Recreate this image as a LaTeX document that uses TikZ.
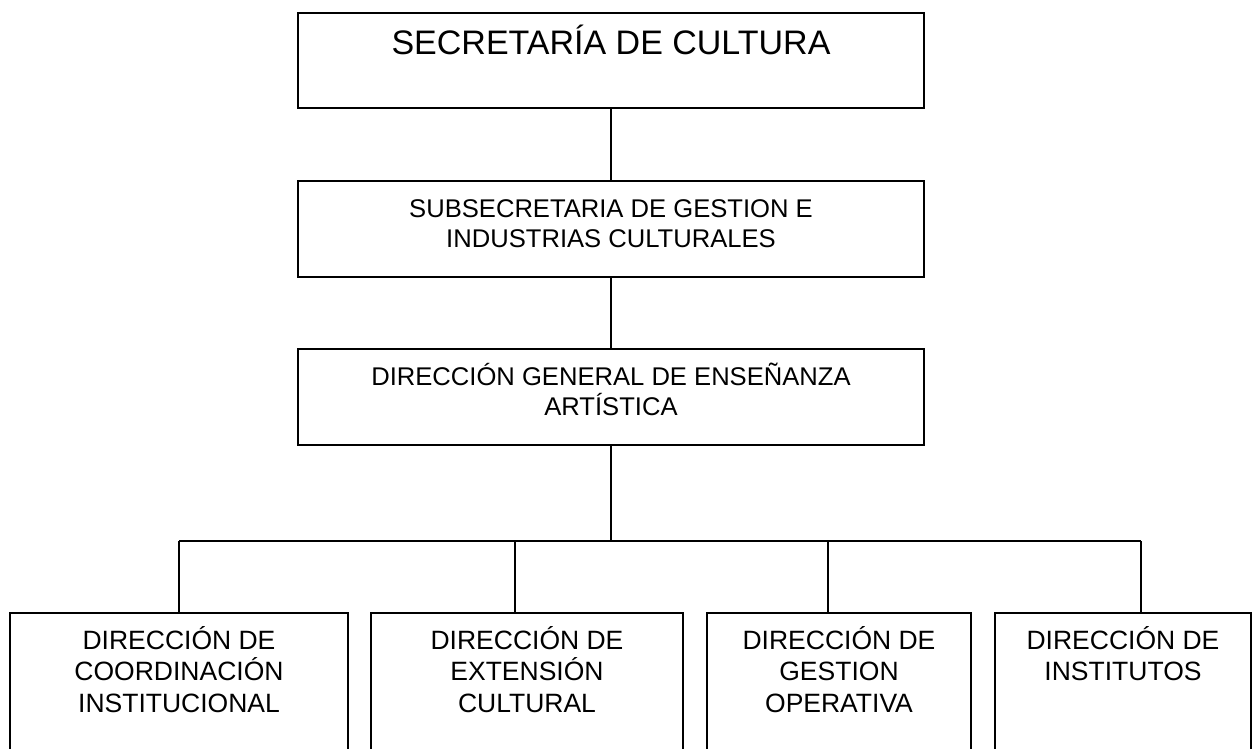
\documentclass[tikz,border=0pt]{standalone}
\usepackage{fontspec}
\setmainfont{Liberation Sans}
\usetikzlibrary{positioning}

\begin{document}
\begin{tikzpicture}[x=1pt, y=-1pt, line width=2pt,
    unit/.style = {draw, rectangle, inner sep=0pt, outer sep=0pt, minimum width=626pt, minimum height=96pt},
    dept/.style = {draw, rectangle, inner sep=0pt, outer sep=0pt, minimum height=160pt},
    title/.style = {anchor=base, align=center, inner sep=0pt, font=\fontsize{25.6}{30}\selectfont},
    dtitle/.style = {anchor=base, align=center, inner sep=0pt, font=\fontsize{26.5}{31.5}\selectfont}]
  \clip (0,0) rectangle (1253,749);

  % upper levels
  \node[unit, minimum height=95pt, line width=2.3pt] (sec) at (611,60.5) {};
  \node[unit] (sub) at (611,229) {};
  \node[unit] (dge) at (611,397) {};

  % base anchor sits on the last line
  \node[title, font=\fontsize{34}{38}\selectfont] (sec-t) at ([yshift=-42pt]sec.north) {SECRETARÍA DE CULTURA};
  \node[title] (sub-t) at ([yshift=-66pt]sub.north) {SUBSECRETARIA DE GESTION E\\INDUSTRIAS CULTURALES};
  \node[title] (dge-t) at ([yshift=-66pt]dge.north) {DIRECCIÓN GENERAL DE ENSEÑANZA\\ARTÍSTICA};

  % directions
  \node[dept, minimum width=338pt] (coo) at (179,693) {};
  \node[dept, minimum width=312pt] (ext) at (527,693) {};
  \node[dept, minimum width=264pt] (ope) at (839,693) {};
  \node[dept, minimum width=256pt] (ins) at (1123,693) {};

  \node[dtitle] (coo-t) at ([yshift=-99pt]coo.north) {DIRECCIÓN DE\\COORDINACIÓN\\INSTITUCIONAL};
  \node[dtitle] (ext-t) at ([yshift=-99pt]ext.north) {DIRECCIÓN DE\\EXTENSIÓN\\CULTURAL};
  \node[dtitle] (ope-t) at ([yshift=-99pt]ope.north) {DIRECCIÓN DE\\GESTION\\OPERATIVA};
  \node[dtitle] (ins-t) at ([yshift=-67.5pt]ins.north) {DIRECCIÓN DE\\INSTITUTOS};

  % connectors
  \coordinate (bar) at (611,541);
  \coordinate (j1) at (179,541);
  \coordinate (j2) at (515,541);
  \coordinate (j3) at (828,541);
  \coordinate (j4) at (1141,541);

  \draw (sec) -- (sub);
  \draw (sub) -- (dge);
  \draw (dge) -- (bar);
  \draw (j1) -- (j4);
  \draw (j1) -- (j1 |- coo.north);
  \draw (j2) -- (j2 |- ext.north);
  \draw (j3) -- (j3 |- ope.north);
  \draw (j4) -- (j4 |- ins.north);
\end{tikzpicture}
\end{document}
